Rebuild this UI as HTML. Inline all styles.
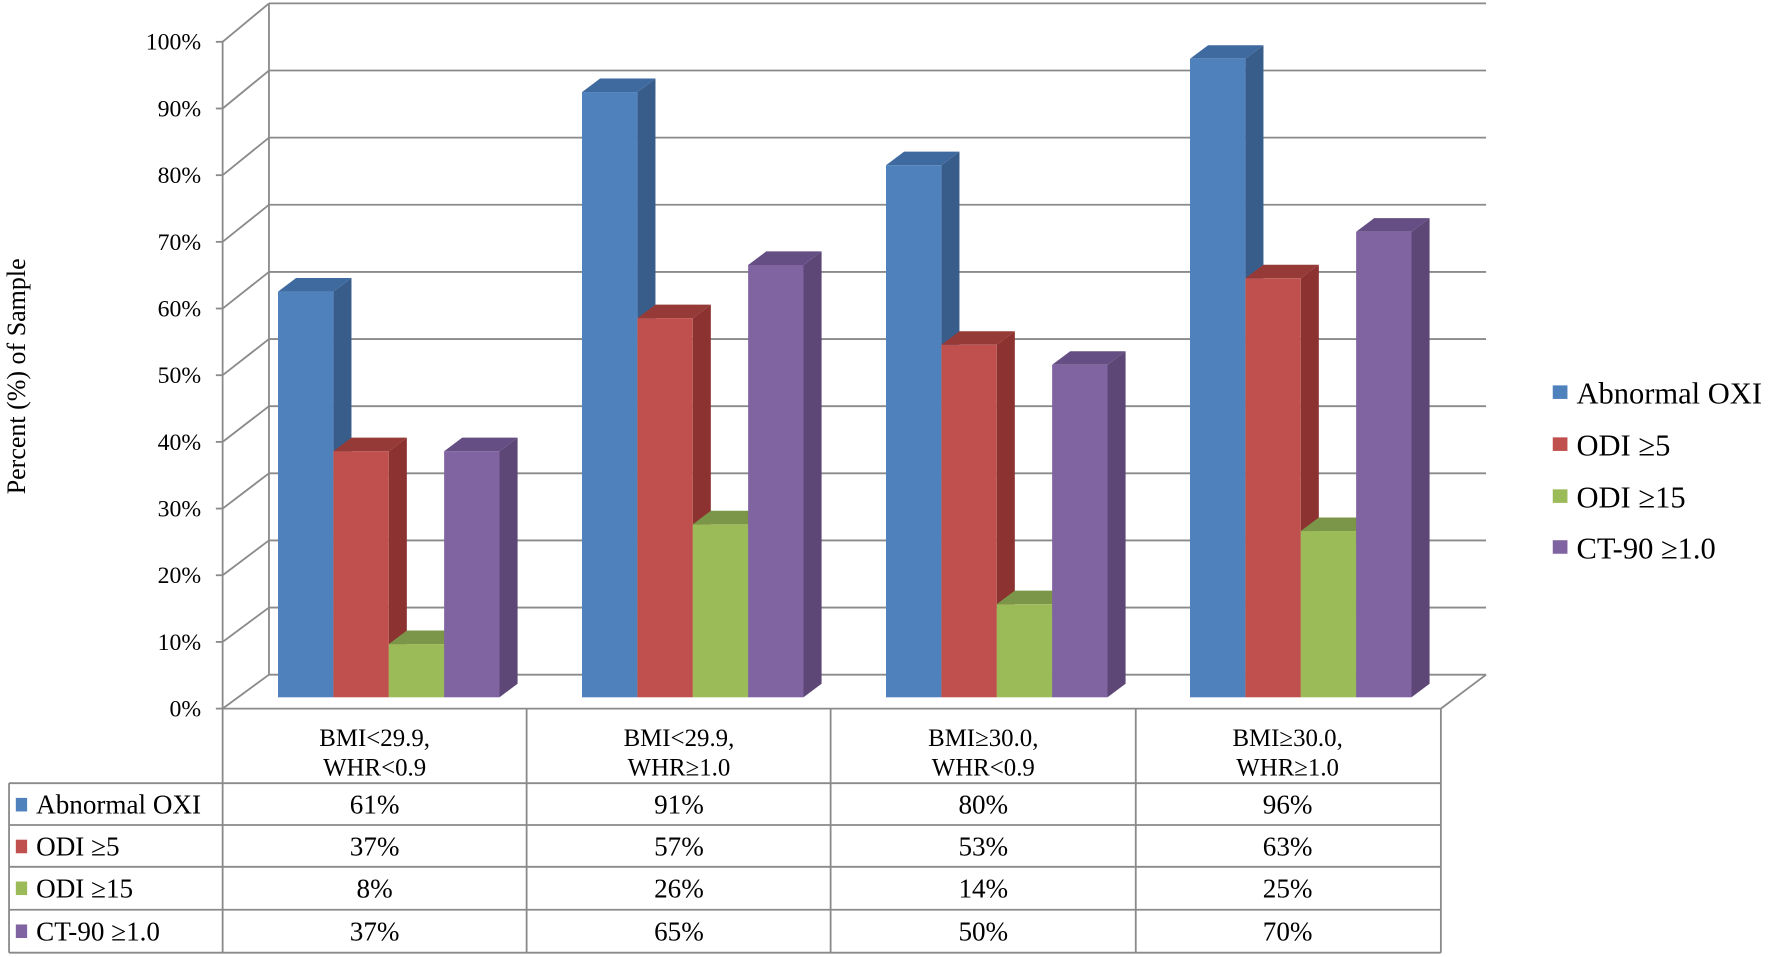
<!DOCTYPE html>
<html><head><meta charset="utf-8"><style>html,body{margin:0;padding:0;background:#fff}svg{display:block}</style></head><body>
<svg width="1772" height="957" viewBox="0 0 1568 846.8" preserveAspectRatio="none" xmlns="http://www.w3.org/2000/svg" font-family="Liberation Serif, serif">
<g id="grid" stroke="#8a8a8a" stroke-width="1.6" fill="none"></g>
<g id="bars"></g>
<g id="table" stroke="#8a8a8a" stroke-width="1.6" fill="none">
<line x1="197" y1="627" x2="1275" y2="627"/>
<line x1="8" y1="693" x2="1275" y2="693"/>
<line x1="8" y1="730" x2="1275" y2="730"/>
<line x1="8" y1="767" x2="1275" y2="767"/>
<line x1="8" y1="805" x2="1275" y2="805"/>
<line x1="8" y1="843" x2="1275" y2="843"/>
<line x1="8" y1="693" x2="8" y2="843"/>
<line x1="197" y1="627" x2="197" y2="843"/>
<line x1="466" y1="627" x2="466" y2="843"/>
<line x1="735" y1="627" x2="735" y2="843"/>
<line x1="1005" y1="627" x2="1005" y2="843"/>
<line x1="1275" y1="627" x2="1275" y2="843"/>
</g>
<g id="text" font-size="21" fill="#000"></g>
<g id="tab" font-size="24" fill="#000"></g>
<text transform="translate(22,333) rotate(-90)" text-anchor="middle" font-size="23">Percent (%) of Sample</text>
<g font-size="27">
<rect x="1374" y="341" width="13" height="12" fill="#4f81bd"/><text x="1395" y="357">Abnormal OXI</text>
<rect x="1374" y="387" width="13" height="12" fill="#c0504d"/><text x="1395" y="403">ODI ≥5</text>
<rect x="1374" y="433" width="13" height="12" fill="#9bbb59"/><text x="1395" y="449">ODI ≥15</text>
<rect x="1374" y="478" width="13" height="12" fill="#8064a2"/><text x="1395" y="494">CT-90 ≥1.0</text>
</g>
<script>
const ns="http://www.w3.org/2000/svg";
function el(p,t,a,txt){const e=document.createElementNS(ns,t);for(const k in a)e.setAttribute(k,a[k]);if(txt!==undefined)e.textContent=txt;document.getElementById(p).appendChild(e);return e;}
for(let i=0;i<=10;i++){const yb=597-i*59.4, yf=627-i*59.0;
 el('grid','line',{x1:238,y1:yb,x2:1315,y2:yb});
 el('grid','line',{x1:197,y1:yf,x2:238,y2:yb});
 el('grid','line',{x1:191,y1:yf,x2:197,y2:yf});
 el('text','text',{x:178,y:yf+7,'text-anchor':'end'},(i*10)+'%');
}
el('grid','line',{x1:238,y1:3,x2:238,y2:597});
el('grid','line',{x1:197,y1:36,x2:197,y2:627});
el('grid','line',{x1:1275,y1:627,x2:1315,y2:597});
const data=[[61,37,8,37],[91,57,26,65],[80,53,14,50],[96,63,25,70]];
const cols=[["#4f81bd","#385d8a","#3f6aa0"],["#c0504d","#8c3331","#963a37"],["#9bbb59","#71893f","#7b9648"],["#8064a2","#5c4776","#654e83"]];
const dx=16,dy=-12,bw=49,base=617,k=5.885;
data.forEach((g,gi)=>{g.forEach((v,si)=>{const x1=246+gi*269+si*bw,x2=x1+bw,t=base-v*k;
 el('bars','polygon',{points:`${x2},${base} ${x2+dx},${base+dy} ${x2+dx},${t+dy} ${x2},${t}`,fill:cols[si][1]});
 el('bars','polygon',{points:`${x1},${t} ${x1+dx},${t+dy} ${x2+dx},${t+dy} ${x2},${t}`,fill:cols[si][2]});
 el('bars','rect',{x:x1,y:t,width:bw,height:base-t,fill:cols[si][0]});
});});
const hdr=[["BMI<29.9,","WHR<0.9"],["BMI<29.9,","WHR≥1.0"],["BMI≥30.0,","WHR<0.9"],["BMI≥30.0,","WHR≥1.0"]];
hdr.forEach((h,i)=>{const cx=331.5+i*269.3;
 el('text','text',{x:cx,y:660,'text-anchor':'middle','font-size':22},h[0]);
 el('text','text',{x:cx,y:686,'text-anchor':'middle','font-size':22},h[1]);});
const names=["Abnormal OXI","ODI ≥5","ODI ≥15","CT-90 ≥1.0"];
const rowy=[693,730,767,805];
names.forEach((n,si)=>{const y=rowy[si];
 el('tab','rect',{x:14,y:y+13,width:10,height:12,fill:cols[si][0]});
 el('tab','text',{x:32,y:y+27},n);
 data.forEach((g,gi)=>{el('tab','text',{x:331.5+gi*269.3,y:y+27,'text-anchor':'middle'},g[si]+'%');});
});
</script>
</svg>
</body></html>
